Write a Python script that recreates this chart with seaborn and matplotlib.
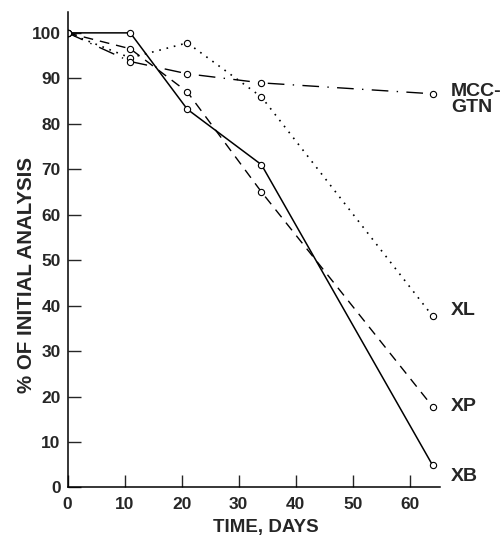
import matplotlib
matplotlib.use("Agg")
import matplotlib.pyplot as plt
import seaborn as sns
import pandas as pd

# Data
days = [0, 11, 21, 34, 64]
xb = [100, 100, 83.2, 71.0, 4.9]
xl = [100, 94.5, 97.8, 85.9, 37.7]
xp = [100, 96.5, 87.0, 65.0, 17.8]
mcc = [100, 93.7, 91.0, 89.0, 86.6]
series_names = ["XB", "XL", "XP", "MCC-GTN"]
end_labels = ["XB", "XL", "XP", "MCC-\nGTN"]
label_y = [2.5, 39.0, 17.8, 85.3]
x_ticks = [0, 10, 20, 30, 40, 50, 60]
y_ticks = [0, 10, 20, 30, 40, 50, 60, 70, 80, 90, 100]

sns.set_theme(style="ticks")
plt.rcParams["font.family"] = ["Liberation Sans", "DejaVu Sans"]

df = pd.concat([
    pd.DataFrame({"day": days, "pct": v, "series": n})
    for n, v in zip(series_names, [xb, xl, xp, mcc])
], ignore_index=True)

fig = plt.figure(figsize=(5.04, 5.35), dpi=100)
ax = fig.add_axes([0.134, 0.0888, 0.739, 0.888])

styles = {
    "XB": dict(linestyle="-", linewidth=1.1),
    "XL": dict(linestyle=(0, (1, 3.5)), linewidth=1.2),
    "XP": dict(linestyle=(0, (7, 5)), linewidth=1.0),
    "MCC-GTN": dict(linestyle=(0, (12, 6, 1, 6)), linewidth=1.0),
}
for n in series_names:
    sub = df[df["series"] == n]
    sns.lineplot(data=sub, x="day", y="pct", ax=ax, color="black",
                 marker="o", markersize=4.5, markerfacecolor="white",
                 markeredgecolor="black", markeredgewidth=0.8,
                 legend=False, **styles[n])

for lab, yv in zip(end_labels, label_y):
    ax.text(67.2, yv, lab, ha="left", va="center", fontsize=14,
            fontweight="bold", linespacing=0.9, clip_on=False)

ax.set_xlim(0, 65.3)
ax.set_ylim(0, 104.5)
ax.set_xticks(x_ticks)
ax.set_yticks(y_ticks)
ax.tick_params(direction="in", length=9, width=1, labelsize=12.5)
ax.tick_params(axis="x", pad=7)
ax.tick_params(axis="y", pad=5)
for lbl in ax.get_xticklabels() + ax.get_yticklabels():
    lbl.set_fontweight("bold")
ax.set_xlabel("TIME, DAYS", fontsize=13.5, fontweight="bold")
ax.set_ylabel("% OF INITIAL ANALYSIS", fontsize=14.8, fontweight="bold")
ax.xaxis.set_label_coords(0.533, -0.066)
ax.yaxis.set_label_coords(-0.085, 0.447)
sns.despine(ax=ax)
for s in ["left", "bottom"]:
    ax.spines[s].set_linewidth(1.1)
    ax.spines[s].set_color("black")

fig.savefig("out.png", dpi=100)
